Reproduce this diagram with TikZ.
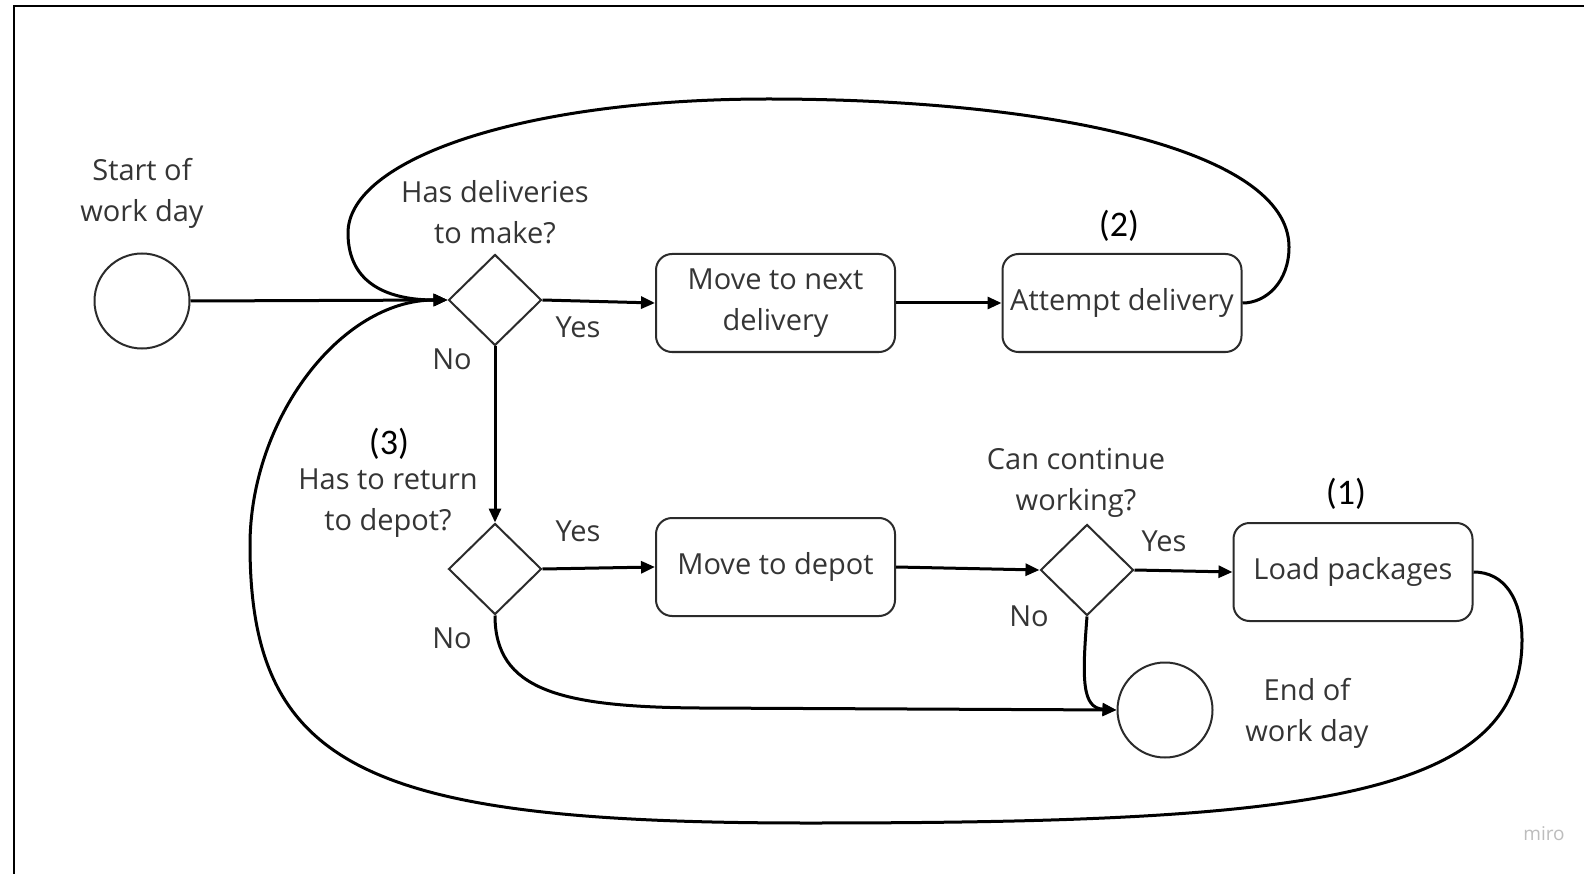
\documentclass[tikz,border=0pt]{standalone}
\usepackage{fontspec}
\setmainfont{Open Sans}
\newfontfamily\numfont{Carlito}
\usetikzlibrary{arrows.meta,shapes.geometric}
\definecolor{ink}{HTML}{353535}
\definecolor{shapeline}{HTML}{2B2B2B}
\definecolor{wmark}{HTML}{BDBDBD}
\tikzset{
  every node/.style={inner sep=0pt},
  txt/.style={text=ink, font=\fontsize{29}{41}\selectfont, align=center},
  numlbl/.style={text=black, font=\numfont\fontsize{36}{40}\selectfont},
  terminal/.style={circle, draw=shapeline, line width=2pt, minimum size=95pt},
  decision/.style={diamond, draw=shapeline, line width=2pt, minimum width=93pt, minimum height=91pt},
  activity/.style={rectangle, rounded corners=16pt, draw=shapeline, line width=2pt,
    minimum width=239pt, minimum height=98pt, txt},
  flow/.style={draw=black, line width=3pt, -{Triangle[length=14pt,width=12pt]}},
  frameline/.style={draw=black, line width=2.5pt}
}
\begin{document}
\begin{tikzpicture}[x=1pt, y=-1pt]
\useasboundingbox (0,0) rectangle (1584,874);
\fill[white] (0,0) rectangle (1584,874);
% frame edges
\draw[frameline] (1584,6) -- (14,6) -- (14,874);

% shapes
\node[terminal] (start) at (142,301) {};
\node[decision] (d1) at (495,300) {};
\node[activity] (next) at (775.5,303) {Move to next\\delivery};
\node[activity] (attempt) at (1122,303) {Attempt delivery};
\node[decision] (d2) at (495,569) {};
\node[activity] (depot) at (775.5,567) {Move to depot};
\node[decision] (d3) at (1087,570) {};
\node[activity] (load) at (1353,572) {Load packages};
\node[terminal] (endc) at (1165,710) {};

% labels
\node[txt] (startlbl) at (142,193) {Start of\\work day};
\node[txt] (q1) at (495,212) {Has deliveries\\to make?};
\node[txt] (yes1) at (578,327) {Yes};
\node[txt] (no1) at (452,359) {No};
\node[numlbl] (n2) at (1119,226) {(2)};
\node[numlbl] (n3) at (389,444) {(3)};
\node[txt] (q2) at (388,503) {Has to return\\to depot?};
\node[txt] (yes2) at (578,531) {Yes};
\node[txt] (no2) at (452,638) {No};
\node[txt] (q3) at (1076,483) {Can continue\\working?};
\node[txt] (yes3) at (1164,541) {Yes};
\node[txt] (no3) at (1029,616) {No};
\node[numlbl] (n1) at (1346,494) {(1)};
\node[txt] (endlbl) at (1307,713) {End of\\work day};
\node[text=wmark, font=\fontsize{19}{22}\selectfont] (wm) at (1544,834) {miro};

% connectors
\draw[flow] (start.east) -- (d1.west);
\draw[flow] (d1.east) -- (next.west);
\draw[flow] (next.east) -- (attempt.west);
\draw[flow] (attempt.east) .. controls (1266,303) and (1289,282) .. (1289,247)
  .. controls (1289,150) and (1050,99) .. (768,99)
  .. controls (520,99) and (348,160) .. (348,233)
  .. controls (348,285) and (390,300) .. (d1.west);
\draw[flow] (load.east) .. controls (1505,572) and (1522,600) .. (1522,640)
  .. controls (1522,800) and (1300,823) .. (808,823)
  .. controls (370,823) and (250,770) .. (250,545)
  .. controls (250,420) and (340,300) .. (d1.west);
\draw[flow] (d1.south) -- (d2.north);
\draw[flow] (d2.east) -- (depot.west);
\draw[flow] (depot.east) -- (d3.west);
\draw[flow] (d3.east) -- (load.west);
\draw[flow] (d2.south) .. controls (495,690) and (560,707) .. (700,708) -- (endc.west);
\draw[flow] (d3.south) .. controls (1082,680) and (1082,708) .. (endc.west);
\end{tikzpicture}
\end{document}
